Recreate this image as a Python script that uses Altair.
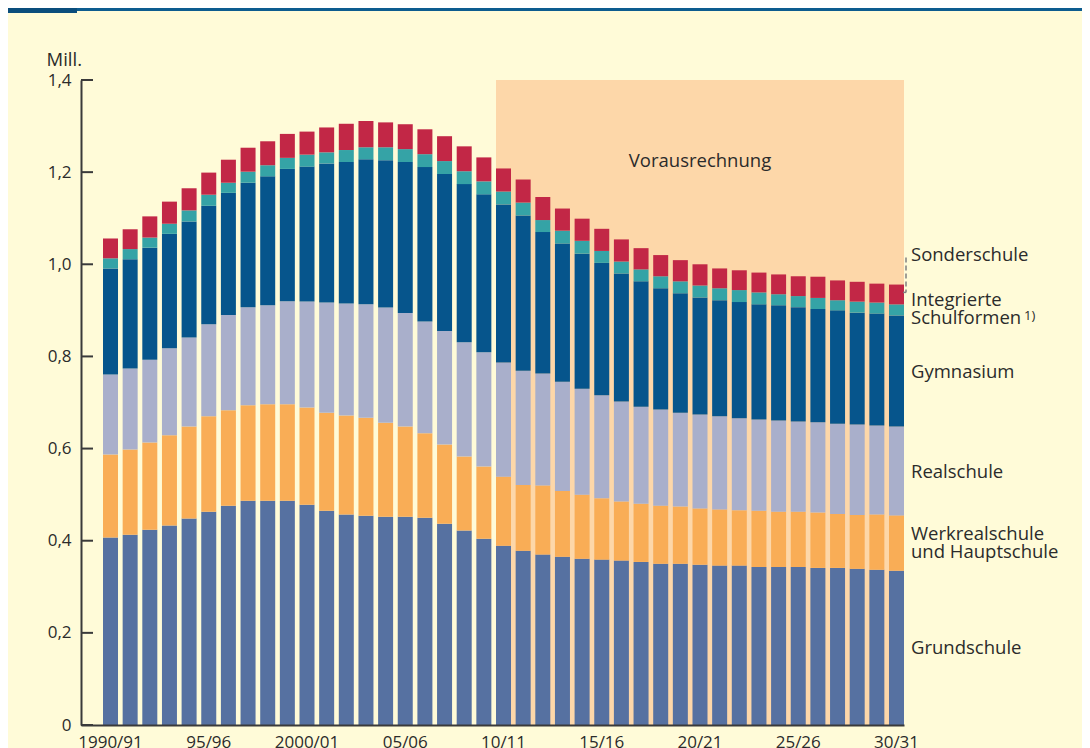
import altair as alt
import pandas as pd

categories = [
    "1990/91", "91/92", "92/93", "93/94", "94/95", "95/96", "96/97", "97/98", "98/99", "99/00",
    "2000/01", "01/02", "02/03", "03/04", "04/05", "05/06", "06/07", "07/08", "08/09", "09/10",
    "10/11", "11/12", "12/13", "13/14", "14/15", "15/16", "16/17", "17/18", "18/19", "19/20",
    "20/21", "21/22", "22/23", "23/24", "24/25", "25/26", "26/27", "27/28", "28/29", "29/30",
    "30/31",
]
x_tick_labels = ["1990/91", "95/96", "2000/01", "05/06", "10/11", "15/16", "20/21", "25/26", "30/31"]
y_tick_values = [0, 0.2, 0.4, 0.6, 0.8, 1.0, 1.2, 1.4]

# Schüler in Mill.
grundschule = [0.407, 0.413, 0.424, 0.433, 0.448, 0.463, 0.476, 0.487, 0.487, 0.487,
               0.478, 0.465, 0.457, 0.454, 0.452, 0.452, 0.450, 0.437, 0.422, 0.404,
               0.389, 0.378, 0.370, 0.365, 0.361, 0.359, 0.357, 0.354, 0.350, 0.350,
               0.348, 0.346, 0.346, 0.343, 0.343, 0.343, 0.341, 0.341, 0.339, 0.337, 0.335]
werkreal_haupt = [0.180, 0.185, 0.189, 0.196, 0.200, 0.207, 0.207, 0.207, 0.209, 0.209,
                  0.211, 0.213, 0.215, 0.213, 0.204, 0.196, 0.183, 0.172, 0.161, 0.157,
                  0.150, 0.143, 0.150, 0.143, 0.139, 0.133, 0.128, 0.126, 0.126, 0.124,
                  0.122, 0.122, 0.120, 0.122, 0.120, 0.120, 0.120, 0.117, 0.117, 0.120, 0.120]
realschule = [0.174, 0.176, 0.180, 0.189, 0.193, 0.200, 0.207, 0.213, 0.215, 0.224,
              0.230, 0.239, 0.243, 0.246, 0.250, 0.246, 0.243, 0.246, 0.248, 0.248,
              0.248, 0.248, 0.243, 0.237, 0.230, 0.224, 0.217, 0.211, 0.209, 0.204,
              0.204, 0.202, 0.200, 0.198, 0.198, 0.196, 0.196, 0.196, 0.196, 0.193, 0.193]
gymnasium = [0.230, 0.237, 0.243, 0.248, 0.252, 0.257, 0.265, 0.270, 0.280, 0.287,
             0.293, 0.302, 0.307, 0.315, 0.320, 0.328, 0.335, 0.341, 0.343, 0.343,
             0.343, 0.337, 0.307, 0.300, 0.293, 0.287, 0.278, 0.272, 0.263, 0.259,
             0.254, 0.252, 0.252, 0.250, 0.250, 0.248, 0.246, 0.246, 0.243, 0.243, 0.241]
integrierte = [0.022, 0.022, 0.022, 0.022, 0.024, 0.024, 0.022, 0.024, 0.024, 0.024,
               0.026, 0.024, 0.026, 0.026, 0.028, 0.028, 0.028, 0.028, 0.028, 0.028,
               0.028, 0.028, 0.026, 0.028, 0.028, 0.026, 0.026, 0.026, 0.026, 0.026,
               0.026, 0.026, 0.026, 0.026, 0.024, 0.024, 0.024, 0.022, 0.024, 0.024, 0.024]
sonderschule = [0.043, 0.043, 0.046, 0.048, 0.048, 0.048, 0.050, 0.052, 0.052, 0.052,
                0.050, 0.054, 0.057, 0.057, 0.054, 0.054, 0.054, 0.054, 0.054, 0.052,
                0.050, 0.050, 0.050, 0.048, 0.048, 0.048, 0.048, 0.046, 0.046, 0.046,
                0.046, 0.043, 0.043, 0.043, 0.043, 0.043, 0.046, 0.043, 0.043, 0.041, 0.043]

schools = ["Grundschule", "Werkrealschule und Hauptschule", "Realschule",
           "Gymnasium", "Integrierte Schulformen", "Sonderschule"]
series = [grundschule, werkreal_haupt, realschule, gymnasium, integrierte, sonderschule]
colors = ["#5671a1", "#f9ad56", "#a9afcb", "#06558c", "#35a3a6", "#c22746"]

label_texts = ["Sonderschule", "Integrierte", "Schulformen", "Gymnasium",
               "Realschule", "Werkrealschule", "und Hauptschule", "Grundschule"]
label_y = [1.007, 0.909, 0.870, 0.754, 0.537, 0.402, 0.363, 0.154]

forecast_start = "10/11"
forecast_end = "30/31"
forecast_label = "Vorausrechnung"
forecast_label_cat = "20/21"
forecast_label_y = 1.211

TEXT = "#2b2b2b"
AXIS = "#3a3a3a"
FONT = "Open Sans"

rows = []
for i, c in enumerate(categories):
    for k, (s, vals) in enumerate(zip(schools, series)):
        rows.append({"cat": c, "school": s, "value": vals[i], "order": k})
df = pd.DataFrame(rows)

xscale = alt.Scale(domain=categories, paddingInner=0.2366, paddingOuter=0.56, align=1)
yscale = alt.Scale(domain=[0, 1.4], nice=False, zero=True)

xaxis = alt.Axis(
    values=x_tick_labels, title=None, ticks=False, tickSize=0, labelPadding=9,
    labelFontSize=17, labelFont=FONT, labelColor=TEXT, labelAngle=0,
    domainColor=AXIS, domainWidth=2, grid=False, labelOverlap=False)
yaxis = alt.Axis(
    values=y_tick_values, title="Mill.", titleAngle=0, titleAlign="left",
    titleBaseline="alphabetic", titleX=-35, titleY=-15, titleFont=FONT,
    titleFontSize=18.5, titleFontWeight="normal", titleColor=TEXT,
    labelExpr="datum.value == 0 ? '0' : replace(format(datum.value, '.1f'), '.', ',')",
    labelFontSize=17, labelFont=FONT, labelColor=TEXT, labelPadding=10,
    ticks=False, tickSize=0, domainColor=AXIS, domainWidth=2, grid=False)

shade = alt.Chart(pd.DataFrame({"start": [forecast_start], "end": [forecast_end],
                                "y0": [0.0], "y1": [1.4]})).mark_rect(color="#fdd7a9").encode(
    x=alt.X("start:N", scale=xscale, bandPosition=0, axis=xaxis),
    x2=alt.X2("end", bandPosition=1),
    y=alt.Y("y0:Q", scale=yscale, axis=yaxis),
    y2="y1",
)

bars = alt.Chart(df).mark_bar().encode(
    x=alt.X("cat:N", scale=xscale, axis=xaxis),
    y=alt.Y("value:Q", stack="zero", scale=yscale, axis=yaxis),
    color=alt.Color("school:N", scale=alt.Scale(domain=schools, range=colors), legend=None),
    order=alt.Order("order:Q"),
)

ticks = alt.Chart(pd.DataFrame({"v": y_tick_values})).mark_rule(color=AXIS, strokeWidth=2).encode(
    y=alt.Y("v:Q", scale=yscale, axis=yaxis),
    x=alt.value(0),
    x2=alt.value(12),
)

labels = alt.Chart(pd.DataFrame({"cat": [forecast_end] * len(label_texts),
                                 "label": label_texts, "y": label_y})).mark_text(
    align="left", baseline="alphabetic", dx=14.5, fontSize=18.5, font=FONT, color=TEXT).encode(
    x=alt.X("cat:N", scale=xscale, axis=xaxis),
    y=alt.Y("y:Q", scale=yscale, axis=yaxis),
    text="label:N",
)

sup = alt.Chart(pd.DataFrame({"cat": [forecast_end], "label": ["1)"], "y": [0.878]})).mark_text(
    align="left", baseline="alphabetic", dx=127.5, fontSize=13, font=FONT, color=TEXT).encode(
    x=alt.X("cat:N", scale=xscale, axis=xaxis),
    y=alt.Y("y:Q", scale=yscale, axis=yaxis),
    text="label:N",
)

fc = alt.Chart(pd.DataFrame({"cat": [forecast_label_cat], "label": [forecast_label],
                             "y": [forecast_label_y]})).mark_text(
    align="center", baseline="alphabetic", fontSize=18.5, font=FONT, color=TEXT).encode(
    x=alt.X("cat:N", scale=xscale, axis=xaxis),
    y=alt.Y("y:Q", scale=yscale, axis=yaxis),
    text="label:N",
)

leader = alt.Chart(pd.DataFrame({"cat": [forecast_end], "y0": [1.015], "y1": [0.939]})).mark_rule(
    color="#808080", strokeWidth=1.5, strokeDash=[5, 3], xOffset=2).encode(
    x=alt.X("cat:N", scale=xscale, bandPosition=1, axis=xaxis),
    y=alt.Y("y0:Q", scale=yscale, axis=yaxis),
    y2="y1",
)
hook = alt.Chart(pd.DataFrame({"cat": [forecast_end], "y": [0.939]})).mark_rule(
    color="#808080", strokeWidth=1.5, xOffset=-1, x2Offset=2).encode(
    x=alt.X("cat:N", scale=xscale, bandPosition=1, axis=xaxis),
    x2=alt.X2("cat", bandPosition=1),
    y=alt.Y("y:Q", scale=yscale, axis=yaxis),
)

dummy = pd.DataFrame({"a": [0]})
stripe = alt.Chart(dummy).mark_rule(color="#0d5c8f", strokeWidth=3).encode(
    x=alt.value(-73), x2=alt.value(1001), y=alt.value(-70.5))
block = alt.Chart(dummy).mark_rule(color="#0a4d7c", strokeWidth=5).encode(
    x=alt.value(-73), x2=alt.value(-4), y=alt.value(-69.5))

chart = alt.layer(shade, bars, ticks, labels, sup, fc, leader, hook, stripe, block).properties(
    width=823, height=645,
    autosize=alt.AutoSizeParams(type="none"),
    padding={"left": 73, "top": 72, "right": 178, "bottom": 23},
    background="#fffbd8",
).configure_view(stroke=None)

chart.save("out.html", embed_options={"renderer": "svg", "actions": False})
